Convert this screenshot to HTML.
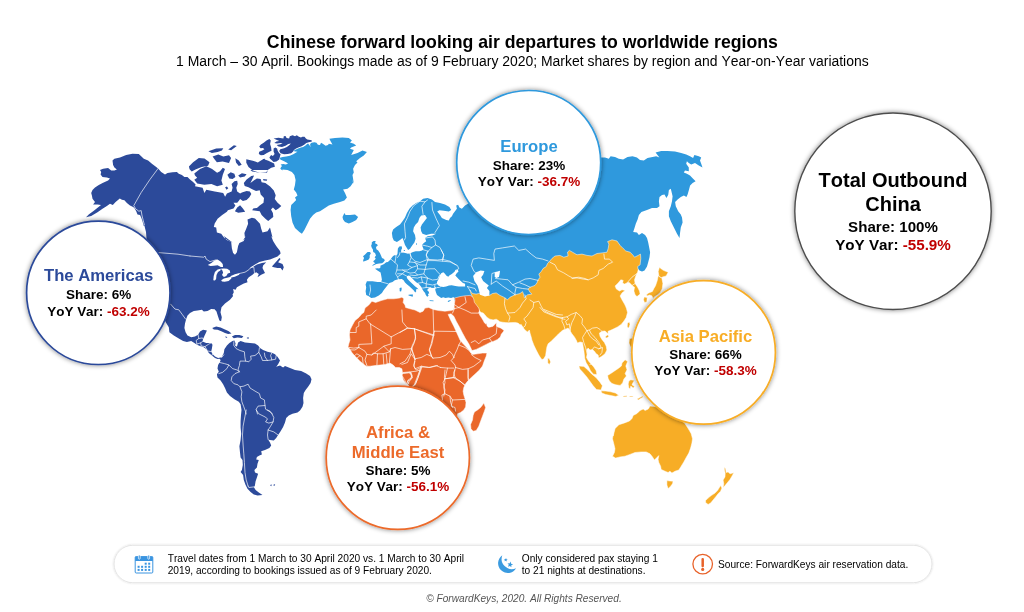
<!DOCTYPE html>
<html lang="en">
<head>
<meta charset="utf-8">
<title>Chinese forward looking air departures to worldwide regions</title>
<style>
html,body{margin:0;padding:0;background:#fff;}
body{width:1024px;height:612px;overflow:hidden;font-family:"Liberation Sans",Arial,Helvetica,sans-serif;}
svg{display:block;position:absolute;left:0;top:0;}
text{font-family:"Liberation Sans",Arial,Helvetica,sans-serif;font-kerning:none;}
.b{font-weight:bold;}
.m{text-anchor:middle;}
.am{fill:#2c4a9a;}
.eu{fill:#2f99dd;}
.af{fill:#ea672a;stroke:#fff;stroke-width:.5;stroke-linejoin:round;}
.as{fill:#f7ad26;stroke:#fff;stroke-width:.5;stroke-linejoin:round;}
.wh{fill:#fff;}
.bd{fill:none;stroke:#fff;stroke-width:0.75;stroke-linejoin:round;stroke-linecap:round;opacity:.9}
.red{fill:#c00000;}
.st{font-size:13.47px;font-weight:bold;fill:#000;text-anchor:middle;}
.rn{font-size:16.66px;font-weight:bold;text-anchor:middle;}
.ft{font-size:10.16px;fill:#000;}
</style>
</head>
<body>
<svg width="1024" height="612" viewBox="0 0 1024 612">
<defs>
<filter id="sh" x="-20%" y="-20%" width="140%" height="140%">
<feGaussianBlur in="SourceAlpha" stdDeviation="2.8"/>
<feOffset dx="0.2" dy="0.4" result="o"/>
<feComponentTransfer><feFuncA type="linear" slope="0.5"/></feComponentTransfer>
<feMerge><feMergeNode/><feMergeNode in="SourceGraphic"/></feMerge>
</filter>
<filter id="sh2" x="-5%" y="-30%" width="110%" height="160%">
<feGaussianBlur in="SourceAlpha" stdDeviation="1.2"/>
<feComponentTransfer><feFuncA type="linear" slope="0.16"/></feComponentTransfer>
<feMerge><feMergeNode/><feMergeNode in="SourceGraphic"/></feMerge>
</filter>
</defs>
<rect width="1024" height="612" fill="#fff"/>
<text x="522.4" y="47.5" class="b m" font-size="17.71">Chinese forward looking air departures to worldwide regions</text>
<text x="522.4" y="65.7" class="m" font-size="13.94">1 March – 30 April. Bookings made as of 9 February 2020; Market shares by region and Year-on-Year variations</text>
<g id="map">
<path class="am" d="M86 217.2 89 214.2 93.5 211 97.9 207.6 101 205 97.5 204.5 93.1 204.4 95 201.9 92.5 198.8 91.9 195.6 91.2 193.1 92.5 190 95 187.5 98.8 185 103.1 182.8 108.1 180.6 110 178.5 106.9 177.5 102.5 176.9 100.6 174.4 101.2 171.9 100 170 103.1 168.8 108.1 168.1 111.2 170.6 114.4 170.6 116.9 169.4 114.4 167.5 113.1 165 112.5 160.6 114.4 158.8 120 157.5 126.2 155 132.5 153.8 138.8 154 141.2 156.2 143.8 158.8 148.1 160.6 151.9 163.8 156.2 166.9 158.1 168.5 161.2 171.9 165 174.4 167.5 173.1 172.5 172.2 176.9 171.9 178.8 173.8 181.9 175 184.4 176.9 187.5 176.9 190 179.4 193.1 181.9 195.6 184.4 195 186.2 202.6 187.8 204.4 193 206.3 189.7 214.7 191.6 223.2 193 225.1 196.7 226.9 193.4 231.6 191.6 232.6 187.8 231.6 184.1 234.4 181.2 237.2 180.8 237.7 184.1 236.3 187.8 237.2 191.6 240.1 193.4 241.9 192.5 246.6 191.1 249.9 191.6 251.3 193.9 249.4 197.2 246.6 200 242.9 200.9 240.1 199.1 238.7 200.9 237.2 202.8 233.5 202.8 235.4 205.6 233.5 208.4 227.9 210.3 226.9 211.7 222.2 215 217.6 218.7 214.7 223.4 213.8 227 216.2 227.5 216.9 232.5 221.2 233.8 224.4 238.1 229.4 241.2 232.5 242.5 223.8 236 226.2 239.8 231.2 242.2 231.9 248.5 233.1 252.9 235 254.8 236.9 252.2 238.1 246 239.4 242.9 243.8 241 245.6 236 242.5 241.2 245 238.1 244.4 233.1 246.2 228.8 248.1 223.8 247.5 219.4 251.9 217.8 255 218.5 260 223.8 261.2 228.8 262.5 232.5 267.5 231.2 270 227.5 272.5 237.5 271.2 236 273.1 241 276.2 246 280 251 280.6 253.5 277.5 256.6 275 257.5 270 259.4 265 260.6 259.4 261.9 255 264.4 251.2 266.9 249.4 268.8 252.5 267.2 256.9 264.5 261.9 262.9 266.2 262.2 263.1 265.4 262.5 267.9 265 272.9 261.2 274.8 257.5 277.2 258.8 274.1 256.2 272.2 253.8 273.5 252.5 274.8 248.8 277.2 246.9 279.8 247.5 282.2 243.8 283.5 240 285.4 236.9 287.2 235.6 289.8 233.1 289.1 233.8 292.2 232.5 294.8 233.1 296 230 299.8 225 303.5 221.5 307.2 220.5 312.2 221.8 317.2 221.1 321.2 219.4 320.6 217.9 316 216.5 311.6 214.6 309.2 211.2 309 207.5 311 203.8 311.6 201.9 309.8 197.5 310.4 193.8 311 190 312.9 187.5 315.4 186.2 319.1 185 323.5 184.4 327.9 185.6 332.2 187.5 335.4 191.2 337.2 195 336.6 198.1 334.8 200 331.6 203.1 329.8 206.9 330.4 205.6 333.5 204.4 336 203.1 339.1 202.5 341.6 206.2 342.9 211.2 342.9 212.5 344.8 211.9 348.5 211.2 351.6 212.5 354.1 215 356.6 218.1 357.9 221.9 357.2 224.4 355.8 225 358.5 222.5 360 221.2 360.4 219.4 358.8 217.5 359.1 215 357.9 211.9 355.4 208.8 352.9 206.9 349.8 203.8 347.2 200 346 196.9 344.8 194.4 342.9 191.2 341 186.9 342 183.1 341 178.8 338.5 173.8 335.4 169.4 332.2 168.8 327.2 166.2 322.9 163.8 318.5 158 300 150 280 146 262 147 245 146 232 144.5 226 143.8 226 142.5 221.2 141.2 217.5 140 215 137.5 214.4 136.2 211.2 134.4 208.1 133.1 206.9 130 205.6 126.9 203.1 124.4 200.2 121.9 199.8 119.8 198.5 115.6 201.9 112.8 205 110 203.8 106.9 206 102.5 208.8 97.5 212.2 91.2 216ZM271.9 266.6 275 262.9 279.4 257.9 280.6 259.1 278.1 262.2 282.5 264.1 283.8 267.2 282.5 270.4 280.6 267.9 277.5 267.9 273.8 267.2ZM212.2 327.9 216.2 326.4 220.6 327.5 225 329.4 228.8 331.2 231.5 333.5 228.1 334 225 333 221.9 331.4 217.5 329.8 213.8 329.4ZM231.9 336.6 235 335.1 239.4 335.1 243.4 336.2 241.9 338 237.5 337.6 233.8 338.2ZM225 336.6 227.5 337 226.2 337.9ZM246.9 337.6 249 337.6 249 338.5 246.9 338.5ZM234.9 211.2 237.2 207.5 240.1 205.2 242.9 208.4 245.2 211.7 241.9 212.2 238.2 212.7ZM243.8 183.1 246.6 179.4 251.3 176.1 254.1 175.6 252.2 179.4 250.4 183.1 254.1 180.3 256.9 178.4 260.7 178.9 261.6 182.2 265.4 183.1 270.1 186.4 273.8 190.6 275.7 195.3 274.7 199.1 277.6 202.8 281.3 206.1 278.5 208.4 275.7 210.3 272.9 207.5 271 209.4 272.9 213.1 273.3 216.9 271 218.7 268.2 221.1 265.4 218.7 261.6 215 259.7 211.2 256 210.8 252.2 210.3 253.2 208.4 256.9 208 259.7 205.6 263.5 202.8 264 198.1 260.7 194.4 259.7 190.2 256 191.1 252.2 189.2 248.5 187.3 244.7 185.9ZM227.4 174.7 230.7 172.3 234.4 173.7 235.4 177 232.6 178.9 229.3 178.4ZM238.2 175.6 241.9 173.3 246.6 174.2 244.7 176.6 240.1 177.5ZM225.1 187.3 226.9 186.4 228.3 188.3 226.5 189.7ZM250.4 170 252.2 171.4 259.7 172.8 266.3 172.3 267.7 170ZM263 178.9 267.2 179.4 266.8 180.8 263.5 180.5ZM188.9 166.4 193.1 162.2 198.8 157.9 204.5 158.6 209.5 162.2 208.1 165.7 201.7 167.1 196 169.3 191.7 171.4 189.6 169.3ZM194.3 173.4 200 169.1 206.4 166.3 212.1 169.1 217.1 172.7 220 171.3 222.8 167.7 225 169.1 222.8 174.8 221.4 180.5 222.8 184.8 217.1 186.2 211.4 184.1 204.3 184.8 197.2 183.4 194.3 179.8 197.2 177.7 195 175.6ZM208.4 151.3 216.2 148.5 223.3 148.2 221.9 150.6 217.6 152.1 211.9 153ZM212.6 156.6 218.3 154.5 223.3 156.6 229 155.2 231.1 158.1 229 163 222.6 161.6 216.9 162.3 214.7 159.5ZM228.2 149.6 233.9 145.3 236.8 146 231.1 150.3ZM235.3 158.2 238.8 160.4 241.7 164.7 238.8 166.1 236 162.5ZM246.3 159.2 252.8 160.7 257.8 162.4 263.4 159 268.4 160.7 274.1 163.5 274.9 166.7 271.3 167.8 267.7 169.9 267 172.8 259.9 172.8 252.8 170.6 248.5 167.1 246.3 162.8ZM258.1 162.5 263.1 159.4 267.5 161.2 272.5 163.8 273.1 166.2 267.5 165.6 262.5 164.4ZM273.6 138.4 278.5 137.7 283.4 138.4 283.8 136.3 285.5 136 286.6 138.1 289.1 138.4 289.8 136.3 292.6 135.3 295 136.3 296.8 135.3 298.9 136.7 301 137.4 302.4 136.7 304.5 136.7 305.9 138.4 307.3 139.5 311.6 140.2 311.9 141.6 308.7 142.3 306.3 143 304.5 144.4 301.7 146.2 298.9 147.2 296.1 148.6 294 150 292.9 151.8 291.2 153.2 287.6 153.9 284.1 154.3 280.6 153.2 279.2 151.1 280.3 149.3 284.1 148.3 286.9 146.9 289.8 144.8 290.8 143.4 288.3 144.1 285.5 145.8 282 146.9 278.5 146.5 276.7 145.1 279.2 144.4 282.7 143.7 280.6 143 277.1 143.4 274.3 143 276.4 141.6 279.2 140.9 276.4 139.8ZM259.2 146.5 260.9 144.4 263.7 142.7 266.5 140.5 269.4 139.1 270.8 140.5 270.1 144.1 271.1 147.2 271.5 150.7 269.4 151.8 266.5 153.2 263.7 155 260.9 155.3 258.8 153.9 259.2 151.8 262.3 150.4 264.4 149.3 263 147.9 260.6 148.3ZM273.6 148.6 275.3 147.6 277.1 148.6 277.8 151.1 279.2 153.2 280.6 154.3 279.9 156.7 279.2 159.5 276.4 161.6 273.6 162 271.8 160.2 270.1 158.8 269.4 157.4 271.1 155 272.9 156 274.6 153.9 273.6 151.4ZM258.1 162.3 260.2 160.9 263 160.2 264.1 158.5 265.1 159.5 265.8 161.6 268.7 162 270.4 163.8 273.2 165.2 272.2 166.9 270.1 167.3 268.7 165.2 265.8 165.5 263 165.2 260.2 164.5ZM221.9 356.8 223.8 353 224.4 349.2 226.9 345.5 229.4 343 232.5 341.1 234.4 340.5 235.6 343.6 235 345.5 236.9 346.8 238.1 342.4 240.6 341.1 245 342.4 250 343 255 343.6 258.1 345.5 260 348 263.1 349.9 267.5 351.8 271.9 352.8 275 354.2 277.5 356.8 280 360.5 278.1 364.2 276.2 366.8 280 365.5 283.1 367.4 285 366.1 290 368 295 369.9 301.2 371.1 306.2 373.6 310 376.1 311.5 379.2 310.6 383 308.1 386.8 305.6 389.9 303.8 393 303.1 398 303.5 403 302.5 406.8 300 410.5 297.5 412.5 292.5 413.8 288.8 415.6 286.2 418.1 285 422.5 283.1 426.9 280.6 431.2 278.1 435 276.2 438.1 273.8 440.6 270 440 268.1 439.4 270 442.5 271.2 445.6 269.4 448.1 265 450 261.2 451.2 261.9 454.4 259.4 455.6 256.9 456.9 256.2 459.4 258.8 460 257.5 463.8 256.9 467.5 254.4 470 255 472.5 258.1 473.8 256.9 477.5 255.6 481.2 254.8 486 253.8 486.9 255.6 490 258.8 492.5 262.5 495 257.5 495.6 253.8 494.4 250.6 491.9 247.5 488.8 245.6 485 243.8 480 243.1 475 240.6 471.9 241.9 470 242.8 465 242.5 460 240.6 457.5 240 452.5 239.4 446.2 240.6 440 241.2 433.8 240.6 427.5 240.6 421.2 241 415 241.5 410 241.2 408 240.6 404.2 238.8 401.8 234.4 399.2 230 396.1 226.9 392.4 225 388 223.1 384.2 220.6 380.5 217.5 377.4 216.9 374.2 218.8 371.8 217.5 368.6 218.1 364.9 220 361.8ZM270 485 271.9 484.4 271.2 486.2ZM273.1 485 275.2 484 274.4 486Z"/>
<path class="eu" d="M279.9 157.8 282.7 157.1 286.2 156.4 289.8 155.7 293.3 154.3 296.1 152.5 297.5 151.8 295.4 151.4 293.3 151.1 295.4 149.7 298.2 148.6 301 147.6 303.1 146.9 305.2 145.8 306.6 144.4 308 143.4 309.4 145.1 310.5 147.2 310.1 144.1 311.6 142.7 314.4 142.3 316.5 142.7 317.9 144.8 320 145.1 321 142.7 322.8 143.7 325.6 145.8 328 145.1 328.8 143.8 332.5 144.4 330.6 141.2 329.4 138.8 335 138.1 342.5 137.5 348.8 138.1 351.9 140.6 350 142.5 353.8 143.8 356.2 145.6 351.2 147.5 350 148.8 353.8 150 351.2 155 357.5 153.1 362.5 150.6 366.9 151.9 363.8 155.6 360 158.1 356.2 161.2 357.5 162.5 355 165 353.1 168.8 353.8 172.5 352.5 175 353.1 178.8 353.8 183.8 351.9 178.8 353.1 182.5 350.6 186.2 347.5 188.8 343.1 189.4 345 193.1 346.9 197.5 344.4 200.6 340 201.9 333.8 203.8 328.8 205.6 325 208.1 320 211.2 316.2 212.5 313.1 215 310 218.8 306.9 225 304.4 230 301.9 233.8 299.4 231.9 295 228.1 292.5 222.5 291.2 216.2 290.6 210 291.2 205 293.8 202.5 296.2 200 295 197.5 297.5 195.6 296.2 192.5 293.8 189.4 295 185 295.6 180 294.4 175 291.9 171.9 287.5 170 282.5 169.4 282.4 170.4 280.3 168.7 281 167.3 282 165.9 280.6 164.5 283.4 164.1 285.5 164.5 288 163.8 286.9 162.7 284.1 161.3 280.3 159.5ZM342.5 216.9 344.4 213.1 345.6 215 350 215 355 214.4 358.1 216.9 356.2 220 352.5 221.9 348.8 223.5 345 221.9 343.1 219.4ZM431.9 199.4 435 201.9 440 203.1 445 204.4 449.4 206.9 451.2 210 448.8 211.5 443.8 210.8 439.4 210.2 437.2 211.5 440 215 441.9 218.1 446.2 220 448.8 220.6 450 218.1 451.9 216.2 453.1 213.8 455 211.2 456.9 208.8 456.2 205.6 458.1 204.8 459.4 207.5 461.9 208.8 465 205.6 468 203.8 480 190 520 170 560 160 595 157 600.6 157.5 605 157.5 608.8 158.8 610.6 156.2 615 156.9 618.8 158.8 623.1 159.4 627.5 156.9 632.5 156.2 636.9 157.5 640 160 643.8 160.6 647.5 158.1 652.5 156.9 656.2 156.2 659.4 157.5 657.5 155 655.6 152.5 661.2 151 667.5 151 675 151.5 681.2 153.1 686.2 154.4 690 156.2 693.1 158.1 694.4 155 698.8 156.2 701.2 157.5 700 160.6 701.2 163.8 702.5 167.5 698.8 165.6 695 163.1 691.2 164.4 688.8 163.1 686.9 161.2 686.2 163.8 688.8 167.5 688.8 171.2 685 170.6 683.8 172.5 686.9 173.8 690 175.6 693.1 178.8 695.6 181.2 692.6 183.1 690.1 185.6 688.9 190 687.6 194.4 686.4 196.9 683.9 195.6 680.8 196.9 677.6 199.4 675.1 201.9 675.8 206.2 678.2 211.2 680.8 214.4 682 217.5 682.6 222.5 680.8 227.5 680.1 232.5 679.5 238.1 677 233.8 673.9 227.5 670.8 221.2 668.9 216.2 668.9 211.2 670.8 206.2 672 201.2 672.6 196.2 671.4 191.2 670.8 188.8 668.9 190 668.2 195 666.4 198.1 664.5 194.4 662 195 659.5 196.9 658.9 201.2 659.5 206.2 657 208.1 652 208.1 647 210 641.4 211.9 638.9 215 637.6 219.4 635.8 223.8 634.5 228.1 633.2 231.9 637 232.5 638.9 235 642 233.1 645.1 235 647 238.1 648.2 242.5 648.9 246 650.1 252.2 649.5 257.2 648.2 262.2 647 266.6 644.5 270.4 642 271.6 639.5 270.4 637.6 268.5 630 262 600 262 560 270 530 300 500 300 470 305 455 302 454.2 297.5 453.2 297.2 451.1 297.9 448.3 297.5 445.4 297.9 443.3 297.2 441.2 297.9 439.1 296.5 437 295.1 436 292.6 435.2 289.8 435.6 288.4 436 286.6 434.9 287.3 433.5 288 431.4 287.7 429.3 288 427.9 288.7 427.2 290.2 428.6 291.6 429.3 293.3 427.9 294 428.6 295.8 427.2 296.8 425.8 295.1 425.1 293 423.6 291.2 422.2 289.1 421.5 287.3 420.1 285.6 418.7 283.8 416.6 282.4 414.5 280.7 412.4 278.5 410.6 276.4 408.9 275.4 407.1 276.1 406.8 277.8 407.8 279.3 409.2 280.7 411 282.4 413.1 284.5 415.2 286.6 417 287.7 418.7 289.4 417.7 289.1 415.9 289.4 416.3 291.2 415.2 292.6 413.8 290.5 412 288.7 409.6 286.6 407.1 284.5 405 282.4 403.6 280.3 401.8 279.1 398.3 279.3 394.8 280.3 392.5 281.9 389.4 283.1 388.1 284.4 386.2 286.9 383.8 290 381.9 293.1 378.8 295.6 375 297.5 371.2 298.1 368.8 296.2 366.2 295 365.6 291.2 366.2 287.5 365.6 284.4 366.9 281.2 372.5 281.2 377.5 281.9 381.2 281.9 381.9 279.4 381.2 275.6 380.6 272.5 377.5 270.6 375 268.8 377.1 268.2 379.2 268.6 380.6 267.2 380.3 265.8 382 265.1 384.1 264 386.2 262.2 388 261.9 389.1 260.8 390.5 259.8 391.5 258 392.9 256.3 394.3 255.2 396.1 255.2 397.4 254.2 397.6 252.5 397.7 250.8 397.9 248.4 399.3 246.6 401.6 246.2 402.1 248.2 401.2 249.9 401.1 251.9 401.7 253.1 402.8 252.4 405.2 253.1 408 253.8 410.9 253.1 413 252 415.8 251.3 419.3 251.3 422.1 250.6 423.5 248.9 421.9 245 423.8 243.1 426.2 241.2 425 238.1 427.5 236.2 432.5 235.6 436.2 233.8 431.2 233.8 426.2 235 422.5 233.8 421.2 231.2 420.6 227.5 421.9 224.4 424.4 221.2 426.9 218.1 425 215 421.2 215.6 419.4 218.1 418.1 221.9 415.6 224.4 413.8 227.5 413.1 231.2 415 235 415.6 238.8 414.4 242.5 412.5 245 410 248.8 408.1 250 406.9 248.1 405 245 403.8 241.2 402.5 238.1 400 240 396.9 241.9 393.8 240.6 392.5 237.5 391.9 233.1 393.1 229.4 396.2 226.9 400 224.4 402.5 221.2 405 217.5 406.9 213.1 409.4 208.8 412.5 205.6 416.2 203.1 420 201.2 423.1 198.8 427.5 198.1ZM371.8 242.2 373.6 241.1 375.7 241.1 375 243.3 377.1 244.3 377.8 245.4 376 247.1 376.4 249.2 378.2 250.6 379.9 253.1 381 255.6 382 258 384.1 259.1 384.8 260.5 383.4 262.2 382 263.3 379.2 263.6 376.4 264 374.3 265.1 372.2 266.1 372.9 264.7 375.3 263.3 373.9 262.2 373.2 261.2 375 259.8 375.7 258.4 374.6 257.3 376 255.6 375 253.1 373.2 252 372.9 249.6 371.8 247.8 371.1 245.7 371.8 244ZM363 256.3 365.1 254.5 366.5 253.1 367.6 252 370.1 252 370.8 253.4 369.7 255.2 369.7 257.7 368.7 259.4 366.5 260.5 364.4 261.2 363 261.5 363.4 259.4 364.1 258ZM403.8 249.9 404.9 249.9 404.9 251 403.8 251ZM416.3 243.3 417 243.1 416.9 245 416.3 244.9ZM408.5 294.7 411 294.4 413 294.6 412.7 296.8 410.3 296.1 408.5 295.6ZM399.6 288 401.5 287.5 401.7 289.1 401.1 291.6 399.7 291.2ZM429.6 300.3 433.5 300.6 433.5 301.2 429.6 301.1ZM447.6 301.1 450.4 300 450.7 300.7 448.3 301.9Z"/>
<path class="af" d="M371.9 301.2 375.6 302.5 381.2 300.6 387.5 298.8 393.8 298.8 399.4 298.1 401.9 297.2 403.8 298.8 403.1 302.5 405 305 405.6 307.5 410 308.8 415 310 420 312.5 423.1 311.2 425 308.1 428.8 307.5 433.1 309.4 438.8 310.6 445 311.2 450.6 310.6 453.1 310 453.8 308.8 454.4 303.8 455 300 454.4 298.1 460 296.6 465 295.8 470 295.4 474.4 297.5 476.9 302.5 479.8 308.8 478.8 313.1 479 312.5 479.7 315 481.1 317.1 482.9 319.9 484.6 323.1 485.9 324.1 486.4 323.1 486.8 324.8 487.1 325.9 488.5 327.3 490.6 326.9 493.1 326.2 495.2 324.1 496.6 322.4 496.9 324.1 496.6 325.9 497.6 326.9 500.5 328 502.9 329.4 504 330.8 502.6 332.6 501.2 334.3 500.5 336.8 501.2 336.2 497.5 339.4 493.8 341.2 490 342.5 486.2 344.4 481.2 346.9 476.2 349.4 471.9 350.6 471.2 348.8 468.8 343.8 465.6 338.8 462.5 333.1 459.4 326.9 456.2 321.2 453.8 316.2 451 313.8 448.1 314.4 450.6 320 453.8 326.2 456.9 333.1 460 340 462.5 343.1 466.2 346.9 469.4 350.6 470.6 352.5 472.5 354.4 477.5 353.8 482.5 353.1 486.9 353.1 486.2 356.2 484.4 360.6 482.5 366 479.4 370 476.2 373.1 471.9 376.9 468.1 380.6 465.6 383.8 463.8 387.5 463.1 391.2 463.8 395 465 398.8 466 402.5 465.6 406.9 463.8 410 460.6 412.5 457.5 413.8 455 430 440 460 420 465 412 430 408 400 408.8 385.6 406.2 383.8 403.1 380 402.5 376.2 408.1 386 406.9 383.8 405 381.9 403.1 379.4 402.2 376.2 402.5 372.5 401.9 368.8 399.4 367.5 395.6 367.5 393.1 365 390 363.1 385 364.4 380 365 375 365.6 370 366.2 366.2 366.2 363.1 363.8 360 361.2 356.9 358.1 354.4 355.6 351.9 352.5 350 349.4 348.1 346.9 348.8 343.8 350 340 349.4 335 350 330 352.5 325 355 320.6 358.8 317.5 361.9 313.8 363.8 312.5 365 308.1 368.8 305ZM483.8 403.1 485.6 407.5 484.4 411.2 482.5 416.2 480.6 421.2 478.8 426.2 476.2 430.6 473.1 431.2 471 428.8 470.6 424.4 472.5 420 473.1 415.6 474.4 411.9 477.5 410 480.6 407.5 482.5 405Z"/>
<path class="as" d="M470 290.4 472.5 293.5 476.2 294.1 478.8 293.5 489.4 295.4 492.5 293.5 496.2 292.9 500 295.4 503.8 297.2 507.5 299.8 510 297.2 515 294.8 520 293.5 522.5 291.6 523.8 294.8 524.4 297.9 527.5 294.8 531.9 294.1 530 292.2 528.1 289.1 530 287.2 535 285.4 536.9 282.9 538.1 279.8 540 277.2 538.8 274.1 541.2 271.6 543.1 268.5 546.2 266.6 547.5 263.5 549.4 261.6 551.9 258.5 555 256 560 255.4 563.8 257.2 568.1 256 567.5 252.2 569.4 250.4 572.5 252.2 577 254.8 582 254.1 587 255.4 592 256 597 253.5 602 252.9 607 252.2 608.2 248.5 608.9 244.1 607.6 241.6 612 239.8 617 241 620.1 245.4 623.2 248.5 625.8 251 630.1 252.2 633.2 255.4 634.5 257.2 638.2 255.4 640.5 254.1 640.8 258.5 640.1 264.8 637.6 266.6 638.2 269.8 637.6 272.2 635.8 276 634.5 279.8 635.1 283.5 637.6 287.2 639.5 291 640.1 294.1 637 296.6 635.1 294.8 633.9 291 634.5 287.2 632.6 286 630.8 284.1 628.9 282.2 627 282.9 624.5 284.1 622.6 282.9 623.2 280.4 620.8 279.8 618.2 282.9 615.1 286 616.4 289.1 619.5 291 622 289.8 625.1 290.4 622 292.9 620.1 296 622 299.8 624.5 304.1 626.4 307.9 626.2 307.5 627.5 312.5 626.2 317.5 623.8 321.2 621.2 324.4 617.5 326.9 613.8 328.8 610 330.6 608.1 331.2 608.1 333.8 605 331 601.9 331.2 599.4 333.1 600 336.2 601.9 339.4 604.4 342.5 606.2 346.2 606.9 350 605 353.8 601.9 356.2 598.8 358.1 598.1 355 596.2 353.8 594.4 351.2 592.5 349.4 590 350 588.1 348.1 586.9 349.4 587.2 353.8 586.5 357.5 588.5 361 590.9 363.8 593.8 367 596.2 370.8 596.9 374.6 593.5 374.2 590.6 370.9 588.5 366.5 586.2 362.8 584.8 358.8 584.4 355 583.8 350 583.1 346.2 582.5 342.5 580 341.9 577.5 343.1 576.2 340 574.4 336.9 571.9 333.8 570 330.6 568.1 328.1 565 329.4 563.1 330 560.6 331.9 557.5 335 554.4 338.1 551.2 341.2 548.1 343.8 546.9 346.9 546.2 351.2 545.6 355.6 543.8 358.8 541.2 360 543.1 360 541.2 358.8 538.8 355 536.2 350 533.8 345 531.9 340 531.2 336.9 530 333.1 529.4 330 527.5 331.9 525 330 523.1 327.5 521.2 324.4 520.1 324.8 518 323.1 515.2 322.4 511.7 322.6 508.2 322.7 505.4 322.6 502.6 322.2 499.8 321.7 498 320.3 496.2 319.2 493.1 319.9 489.9 319.2 487.1 317.4 485 315 483.2 312.9 481.1 312.5 479.7 311.1 478.7 308 476.5 305.1 474.4 302.3 473.7 298.8 472 296 470.6 292.5 470 290ZM547.8 358.1 549.4 358.8 550.6 361.9 549.4 364.4 547.8 363.1ZM605 336.9 607.5 335 609 336.2 606.9 338.1ZM627.5 323.1 629.4 321.9 630 324.4 628.8 328.1 627.2 326.9ZM629.4 338.8 631.9 338.1 633.1 342.5 632.5 346.2 630.6 346.9 629 343.1ZM634 362 640 360 646 372 652 380 648 386 640 380 636 372ZM659.5 267.2 661.4 269.1 663.9 270.6 668.2 272.2 666.1 276 662.6 276.9 661 277.9 658.9 276.2 658.2 271.6ZM658.2 275.8 661.8 277.9 662.9 283.5 662.2 288.8 660.2 292.5 657.6 294.8 654.5 296.8 653.2 298.4 651.8 295.8 649.5 295 647 296.1 646.5 294.8 648.6 293 652.4 291.5 653.9 288.5 655.5 285.8 657.2 280.8ZM644.2 297 647.2 297.6 646.8 301.9 644.5 302.6 643.5 299.8ZM578.9 366 583.9 366.4 587.9 370.1 591.6 373.9 596 377.6 599.8 382 602.4 385.8 601 390 596.5 389.5 593 385.6 589.9 381.2 586.8 376.9 583 372.5 579.8 369.1ZM607.6 375.4 610.8 373.5 614.5 371 618.2 368.5 621.4 366 622 362.9 625.1 359.8 627.6 361.6 625.8 366 627 369.8 625.1 373.5 626.4 376 623.9 379.1 622.6 382.9 620.1 385.4 615.8 384.8 612 383.5 609.5 381 608.2 378.5ZM628.9 381 630.8 379.8 634.5 380.4 633.2 382.2 632 384.8 634.5 386.6 633.2 387.9 630.8 386 630.1 389.1 628.9 387.9 628.2 384.1ZM601 390.8 605.8 391.1 610.8 391.8 615.4 393 618.8 395.2 615.8 396.5 610.8 395.5 605.8 394.5 601.8 393ZM623.2 396 627 395.8 627 396.8 623.2 396.9ZM629.5 396 633.2 396.2 633 397 629.8 396.9ZM637 399.1 642.6 396 643.2 397 638.2 400ZM613.2 436 615.1 428.5 618.9 424.8 624.5 422.9 629.5 421 632 418.5 633.2 415.4 637 413.5 640.1 410.4 643.2 409.1 645.1 410.4 648.2 409.1 650.1 406 659.5 407.2 672 413.5 684.5 422.9 687.5 427.5 689.4 430.6 691.2 433.8 692.5 438.8 691.9 443.1 690.6 448.1 688.8 453.1 686.2 457.5 683.8 461.9 681.2 466.2 678.8 470 675 471.2 671.9 473.1 670 471.2 668.1 472.5 665 471.2 661.2 469.4 660.6 466.2 658.8 462.5 658.1 459.4 658.8 455.6 656.9 457.5 654.4 460 652.5 456.9 650 453.8 646.2 451.9 641.2 451.9 635 452.5 630 454.4 625 456.2 620 456.9 615.6 458.1 612.5 456.2 614.4 452.5 615 448.8 613.8 443.8 612.5 438.8 613.1 435 613.8 428.8ZM666.9 480.6 670 481 673.1 481.2 672.5 483.8 670 486.9 668.1 488.5 666.9 485ZM724.4 466.9 725.6 468.8 726.2 472.5 728.1 471.9 730 473.8 733.8 472.8 731.9 476.2 730 479.4 727.5 482.5 725 485.6 723.1 487.5 723.8 483.8 723.1 480 725 476.9 725.2 473.1 724.4 470ZM720.6 485.6 721.9 488.1 720.6 491.2 718.1 493.8 715.6 496.9 713.1 500 710.6 503.1 708.1 504.4 705.6 502.5 705.6 500.6 708.1 498.1 711.2 495.6 715 493.1 717.5 490.6 719.4 487.5Z"/>
<path class="wh" d="M207.8 264.9 211.4 262.9 214.5 260.6 217.6 259.6 220.8 261.8 222.7 264.1 223.1 266.9 220.8 266.9 217.6 265.3 213.7 265.7 210.6 266.1ZM213.3 280.2 213.7 275.9 214.9 272 217.6 269.6 220.8 268.8 220.4 270.4 218 272 216.5 275.1 216.1 279 214.9 280.6ZM220.8 268.8 223.9 268.4 227.1 268.8 229.8 270.4 230.2 272.7 227.8 273.5 226.3 275.9 223.9 277.1 222 275.1 223.1 272.7 222.4 270.4ZM221.2 280.2 223.9 278.6 227.1 277.8 231 276.7 231.4 278.6 228.6 281 224.7 281.8 222 281.4ZM230.2 276.3 234.9 274.3 239.6 273.1 239.2 274.7 234.9 276.7 231.4 277.6ZM437 282.1 438.4 279.3 439.8 275.7 441.2 273.3 443.3 272.2 444.7 273.6 446.5 275.7 448.3 276.8 449.3 275.4 451.8 274 453.9 272.2 455.6 270.5 457.8 269.8 458.5 271.5 456.7 273.3 455.3 275.4 456.7 277.1 458.8 279.3 461.3 281.4 463 283.1 465.1 283.8 465.1 286.4 461.6 286.6 458.8 286.4 455.3 285.9 451.8 285.2 449 285.6 446.1 286.6 443.3 287 440.5 286.4 438.1 285.2 437 283.8ZM435.2 287.9 438.4 287.1 441.2 286.7 441.2 287.1 438.4 287.7 435.6 288.5ZM473.1 276 476.2 272.2 480.6 270.4 484.4 271 483.1 274.8 481.2 277.2 483.1 281 486.2 283.5 488.8 285.4 486.9 287.9 489.4 291 489.4 295.4 485 296.6 480 294.8 478.8 289.8 477.5 285.4 474.4 281ZM494.7 272.5 497.5 271.5 500 270.8 499.6 274 498.9 277.1 496.4 278 494.7 277.1Z"/>
<path class="bd" d="M233.8 341.8 233.8 345.5 236.2 348.6 240 350.5 244.4 351.8 244.8 356.8 245.6 361.1M259.4 348 258.8 352.4 255 355.5 250.6 356.1 251.2 359.2 248.8 361.8 245.6 361.1 240 361.1 239.4 365.5 238.1 369.2 239.4 371.8M258.8 352.4 261.2 356.8 262.5 360.5 267.5 360.5 265 356.8 264.4 353M267.5 360.5 271.9 359.9 270.6 355.5 271.9 352.8M271.9 359.9 275.6 359.2 276.2 355.5M219.4 362.4 224.4 363.6 228.8 364.9 226.9 368.6 222.5 372.4 218.8 373.6M228.8 364.9 232.5 368.6 236.9 369.9 239.4 371.8 235 373.6 231.9 376.8 231.2 380.5 233.8 383.6 238.1 384.9 240 386.8 243.8 386.1 248.1 384.2 250 388 255 391.1 259.4 393.6 260.6 398 264.4 399.9 265 405.5 265.6 409.2 270 411.8 272.5 414M240 386.8 241.9 391.8 241.2 396.8 241.9 401.8 243.8 406.8 245.6 411.8 246.2 414M265 405.5 258.1 406.1 256.2 409.2 257.5 414M246.2 410 245 416.2 243.1 426.2 242.5 435 243.1 445 243.8 453.8 244.4 462.5 245 472.5 246.2 480 248.1 486M248.1 486 248.8 487.5 253.8 486.9M256.2 410 258.8 413.8 265 416.9 267.5 418.8 265.6 421.9 268.8 423.1 273.1 421.9 273.8 417.5 271.9 413.8 270 411.2 267.5 410M273.1 421.9 270.6 426.2 268.1 430 267.5 435 268.1 439.4M268.1 430 273.8 431.9 278.1 435M158.1 168.5 150 179.4 141.2 192.5 133.8 205.6 135.6 208.8 138.8 211.2 141.2 210.6 141.9 215 143.1 220 144.4 225M155 252.3 178 254.2 190 256M190 256 203.8 257.2 205 256 206.2 259.1 210 261.6 216.2 259.8M239.4 273.5 245 272.2 248.8 269.8 251.2 267.2 253.8 267.2 254.4 272.2 255 273.5M170.6 304.1 175 309.1 178.8 309.8 182.5 314.8 185.6 319.1M198.1 334.8 198.8 338.5 196.2 340.4 196.9 344.1M198.8 338.5 202.5 337.9 203.1 339.1M196.9 344.1 200.6 342.9 202.5 341.6M200.6 342.9 201.2 346 205 346.6 208.8 344.1 211.2 342.9M205 346.6 206.9 349.8M207.5 351 211.2 351.6M212.5 354.1 211.9 355.4M221.9 357.2 223.8 354.8M420 201.2 413.8 205.6 410 211.2 407.5 217.5 404.4 223.8 405 231.2 405.6 237.5 404.4 240M420 201.2 425 201.9 427.5 200M425 201.9 421.9 206.2 423.1 214.4M431.9 202.5 432.5 210 436.2 218.8 439.4 225.6 435 232.5M425 238.1 432.5 236.9 435 240 435.6 245 431.9 247.5 427.5 246.2 421.9 245M435.6 245 440 247.5 443.8 255 442.5 259.4 437.5 260 428.8 259.4 426.2 255 428.1 251.2 431.9 247.5M409.4 251.9 411.2 257.5 415 261.2 420 262.5 426.2 260 428.8 259.4M420 248.8 426.2 250.6 428.1 251.2M442.5 259.4 450 261.2 456.2 265M400 252.5 399.4 255 397.5 257.5M370 285 370.6 290 369.4 295M381.2 281.9 388.1 283.8M391.2 259.4 395 262.5 397.5 265 396.9 270 395.6 273.8 397.5 276.9 398.8 280M396.2 254.4 395.6 258.8 395 262.5M410 252.5 411.2 257.5 409.4 261.9 407.5 265 411.9 267.5 417.5 265.6 415 262.5 409.4 261.9M411.9 267.5 407.5 270 402.5 270 396.9 270M415 262.5 420 265 426.2 265 427.5 260.6 426.2 255 427.5 251.2M427.5 260.6 435 260.6 442.5 261.2 443.8 255 441.2 250M442.5 261.2 450 261.9 457.5 265.6 458.8 268.8 455 270.6 456.9 271.5M426.2 265 425 269.4 430 268.8 435 268.8 437.5 271.9 440 274.4 438.8 276.9M425 269.4 423.8 273.8 427.5 278.1 432.5 280 437.5 279.4 438.8 276.9M417.5 265.6 417.5 268.8 425 269.4M415 272.5 417.5 275 423.8 273.8M402.5 270 405 271.2 410 273.1 415 272.5 417.5 268.8M405 271.2 402.5 273.8 397.5 273.8M397.5 276.9 402.5 273.8 406.9 276.2M410 275 415 275.6 417.5 275M412.5 277.5 417.5 278.1 421.2 276.9 427.5 278.1M421.2 276.9 422.5 282.5 426.2 283.8 427.5 278.1M418.1 283.1 422.5 282.5M422.5 288.1 426.2 287.5 426.2 283.8 432.5 285 436.9 283.8M426.2 287.5 430.6 287.5M434.4 286.9 435 285M463.1 281 468.8 282.2 475 284.8M467.5 286.6 475 288.5 476.2 291M467.5 286.6 470 290.4M548.1 261 542.5 259.1 536.2 257.9 531.2 254.1 525.6 249.1 518.8 250.4 514.4 246 502.5 247.9 495 249.1 493.8 253.5 494.4 260.4 486.2 259.1 478.8 257.9 473.1 259.1 471.2 265.4 473.8 271 475.6 272.9M491.2 284.1 491.9 273.5 496.2 272.2M495.6 278.5 501.2 279.1 508.1 279.8 512.5 284.8 518.8 282.2 525 279.1 530 278.5 538.1 280.4M491.2 284.1 496.2 281 502.5 286 510 291 515 294.8M512.5 284.8 516.2 287.2 515 292.2 515 294.8M520 282.9 525 284.8 530 287.2M516.2 287.2 522.5 288.5 528.1 289.1M550 262.2 555 264.8 557.5 269.8 563.8 272.9 568.8 276 572.5 277.9 578.8 277.2 585 278.5 588 279.8M572 278.5 577 277.9 583.2 279.1 588.2 279.8 593.2 277.9 598.2 274.8 598.9 270.4 603.2 268.5 608.2 264.1 612.6 262.2 609.5 259.1 604.5 259.1 603.9 254.1M627 282.9 632 277.2 637 273.5M631.4 286 635.1 283.5M453.8 308.8 458.8 307.5 465 310 471.2 313.1 478.8 313.1M453.1 303.8 454.4 308.8 452.5 313.1M465 296.9 466.2 302.5 458.8 307.5M453.1 303.8 458.8 307.5M505 298.1 504.4 303.8 505.6 308.8 507.5 313.1 510 316.9 508.8 321.2M507.5 313.1 515 312.5 520 307.5 522.5 303.1 526.2 298.8 525 295M530 300 533.8 302.5 533.1 307.5 530 311.9 526.9 316.2 523.8 318.8 526.2 322.5 525 326.2 523.1 327.5M533.8 302.5 538.8 301.2 541.2 306.2 543.8 310.6 548.8 313.1 555 315.6 560 318.1 565 319.4M471.2 342.5 475 340.6 478.8 343.8 482.5 340 489.4 338.1 491.9 341.9M489.4 338.1 496.2 333.8 496.9 327.5 496.2 322.5M540 307.5 543.8 311.9 550 314.4 556.2 316.9 562.5 317.5 566.9 316.9 571.2 314.4 576.2 312.5 580 315.6 582.5 318.8 581.9 323.8 584.4 326.9 586.9 330.6 589.4 330 592.5 328.1 596.9 327.5 600 329.4 601.2 330.6M543.8 309.4 550 311.9 556.2 314.4 562.5 315M562.5 317.5 561.9 321.2 563.8 325 565 329.4M566.9 316.9 568.8 318.8 565.6 321.2 566.9 325 569.4 323.8 570 330.6M576.2 312.5 574.4 317.5 571.9 322.5 570.6 326.9 570 330.6M586.9 330.6 584.4 334.4 582.5 337.5 583.8 342.5 585.6 347.5 587.2 353.8M589.4 330 591.2 333.8 595 337.5 598.8 342.5 601.2 347.5 598.8 348.8M586.9 330.6 590 336.2 592.5 338.8 596.2 341.2 598.8 345M592.5 349.4 594.4 346.9 598.8 348.8 602.5 347.5 601.9 352.5 600 355M590 364.4 591.9 363.8M366.2 318.8 358.8 321.9 358.8 326.2 356.2 327.5 356.2 332.5 350 332.5M376.2 310 371.2 315 366.2 316.2 366.2 318.8 370 323.8 391.2 336.9M370.6 323.8 371.9 343.8 358.8 344.4 358.8 347.5M391.2 336.9 407.5 328.1 402.5 321.9 401.9 310M407.5 328.1 414.4 328.8 433.8 335M433.1 310 433.8 335M433.8 335 431.9 343.8 429.4 350 432.5 358.1M414.4 328.8 415.6 338.8 412.5 345 411.2 348.8 414.4 356.2 415 359.4M391.2 336.9 391.2 343.8 383.8 346.2 389.4 351.9 390.6 348.8 395 347.5 402.5 349.4 411.2 348.8M390.6 348.8 389.4 362.5M415 359.4 411.2 353.8 407.5 362.5 401.9 364.4M358.8 347.5 353.8 348.1 349.4 347.5M349.4 349.8 355 350 358.8 347.5M358.8 347.5 365 351.2 366.9 354.4 371.9 355 383.8 346.2M366.9 354.4 365 360 366.9 365.6M371.9 355 373.1 353.1 377.5 353.8 376.9 365M377.5 353.8 383.1 353.8 389.4 351.9M383.1 353.8 383.8 364.4M386.2 353.8 387.2 363.8M356.9 358.1 360 355.6 362.5 357.5 363.1 363.8M354.4 355.6 356.9 353.8 360 355.6M415 359.4 413.8 365 415 368.8 421.2 366.2 430 367.5 437.5 365.6M403.1 372.5 410 371.9 411.9 377.5 408.1 380 406.9 383.8M410 371.9 416.2 371.2 420 370 421.2 366.2M420 370 416.2 380 413.8 386M434.4 331.2 456.9 331.5M434.4 331.2 433.1 335.6 431.2 343.8 429.4 349.4 431.2 356.2 433.1 358.1M400 332.5 407.5 328.1 414.4 328.8 433.1 335.6M414.4 328.8 415.6 336.2 414.4 342.5 411.9 348.1 413.1 353.8 415 358.8M415 358.8 421.2 357.5 426.9 354.4 431.2 356.2M415 361.2 413.8 366.2 416.2 370 421.9 366.9 428.8 367.5 436.2 365.6 440.6 367.5M433.1 358.1 440 357.5 446.2 355 449.4 351.2 452.5 354.4 453.8 357.5M461.2 340.6 458.8 345 456.9 350 455 353.8 453.8 357.5M458.8 345 465 347.5 470 351.2 471.2 353.1M453.8 357.5 451.2 360.6 455 365 455.6 367.5M455.6 367.5 462.5 369.4 468.1 368.8 473.8 366.2 481.2 360.6 475 357.5 471.2 354.4M468.1 368.8 468.1 377.5 468.8 380M455.6 367.5 453.8 372.5 455 377.5 460 381.2 465 385M440.6 367.5 447.5 368.1 453.8 368.1M447.5 368.1 446.2 373.8 445 378.8 455 377.5M445 378.8 443.1 382.5 445 390 443.8 396M421.9 366.9 420 372.5 417.5 378.8 415 385M400 373.8 406.2 373.1 411.2 372.5 412.5 377.5 409.4 381.2 407.5 385M400 363.8 405 361.2 410 353.8 411.9 348.1M445 370 444.4 377.5 445 382.5 443.8 387.5 445 393.8 441.9 395 442.5 400M455 370 453.1 377.5 460 381.2 465 385.6M445 378.8 453.1 377.5M445 393.8 450 396.2 452.5 400 465 399.4M452.5 400 451.2 406.2 455 407.5 455.6 411.2M450 396.2 450.6 402.5 452.5 407.5M468.1 370 468.1 379.4M420 370 418.1 377.5 415.6 383.8 412.5 386.2M402.5 373.1 408.8 372.5 411.9 375 410.6 379.4 407.5 381.2 408.8 383.8"/>
</g>
<g id="bubbles">
<circle cx="98.3" cy="292.8" r="71.7" fill="#fff" stroke="#2c4a9a" stroke-width="1.7" filter="url(#sh)"/>
<text x="98.6" y="281.3" class="rn" fill="#2c4a9a">The Americas</text>
<text x="98.6" y="299.1" class="st">Share: 6%</text>
<text x="98.5" y="315.5" class="st">YoY Var: <tspan class="red">-63.2%</tspan></text>

<circle cx="528.7" cy="162.5" r="72" fill="#fff" stroke="#2f99dd" stroke-width="1.7" filter="url(#sh)"/>
<text x="529" y="152" class="rn" fill="#2f99dd">Europe</text>
<text x="529" y="169.7" class="st">Share: 23%</text>
<text x="529" y="185.9" class="st">YoY Var: <tspan class="red">-36.7%</tspan></text>

<circle cx="703.6" cy="352.4" r="71.8" fill="#fff" stroke="#f8ad26" stroke-width="1.7" filter="url(#sh)"/>
<text x="705.5" y="341.8" class="rn" fill="#f8ad26">Asia Pacific</text>
<text x="705.5" y="359" class="st">Share: 66%</text>
<text x="705.5" y="375.3" class="st">YoY Var: <tspan class="red">-58.3%</tspan></text>

<circle cx="397.8" cy="457.8" r="71.6" fill="#fff" stroke="#ec6a2a" stroke-width="1.7" filter="url(#sh)"/>
<text x="398" y="437.6" class="rn" fill="#ec6a2a">Africa &amp;</text>
<text x="398" y="457.6" class="rn" fill="#ec6a2a">Middle East</text>
<text x="398" y="475.3" class="st">Share: 5%</text>
<text x="398" y="491.2" class="st">YoY Var: <tspan class="red">-56.1%</tspan></text>

<circle cx="893" cy="211.25" r="98.2" fill="#fff" stroke="#4d4d4d" stroke-width="1.4" filter="url(#sh)"/>
<text x="893" y="187" class="b m" font-size="20">Total Outbound</text>
<text x="893" y="211.4" class="b m" font-size="20">China</text>
<text x="893" y="231.5" class="b m" font-size="15.1">Share: 100%</text>
<text x="893" y="249.8" class="b m" font-size="15.2">YoY Var: <tspan class="red">-55.9%</tspan></text>
</g>
<g id="footer">
<rect x="114" y="545.3" width="818" height="37.4" rx="18.7" fill="#fff" stroke="#e4e4e4" stroke-width="1" filter="url(#sh2)"/>
<g id="cal" fill="#3a94e0">
<rect x="135.2" y="556.6" width="17.6" height="16.4" rx="1" fill="none" stroke="#3a94e0" stroke-width="1"/>
<rect x="135.2" y="556.6" width="17.6" height="4.4"/>
<rect x="138.4" y="555" width="1.8" height="4.2" rx="0.9" fill="#3a94e0" stroke="#fff" stroke-width="0.7"/>
<rect x="147.8" y="555" width="1.8" height="4.2" rx="0.9" fill="#3a94e0" stroke="#fff" stroke-width="0.7"/>
<g>
<rect x="144.7" y="562.7" width="2" height="2"/><rect x="148.2" y="562.7" width="2" height="2"/>
<rect x="137.6" y="565.8" width="2" height="2"/><rect x="141.1" y="565.8" width="2" height="2"/><rect x="144.7" y="565.8" width="2" height="2"/><rect x="148.2" y="565.8" width="2" height="2"/>
<rect x="137.6" y="568.9" width="2" height="2"/><rect x="141.1" y="568.9" width="2" height="2"/><rect x="144.7" y="568.9" width="2" height="2"/><rect x="148.2" y="568.9" width="2" height="2"/>
</g>
</g>
<text x="167.7" y="561.6" class="ft">Travel dates from 1 March to 30 April 2020 vs. 1 March to 30 April</text>
<text x="167.7" y="574.3" class="ft">2019, according to bookings issued as of 9 February 2020.</text>
<g id="moon" fill="#3b9be0">
<path d="M502.3 555.3A9.7 9.7 0 1 0 516.1 568.3A10.3 10.3 0 0 1 502.3 555.3Z"/>
<path d="M506.1 558.0 506.4 559.3 507.7 559.6 506.6 560.3 506.6 561.6 505.6 560.8 504.4 561.2 504.9 560.0 504.1 559.0 505.4 559.1Z"/>
<path d="M510.6 561.6 511.1 563.7 513.1 564.2 511.3 565.2 511.4 567.3 509.9 565.9 507.9 566.7 508.8 564.8 507.5 563.2 509.5 563.4Z"/>
</g>
<text x="521.8" y="561.6" class="ft">Only considered pax staying 1</text>
<text x="521.8" y="574.1" class="ft">to 21 nights at destinations.</text>
<g id="warn">
<circle cx="702.7" cy="564.1" r="9.8" fill="none" stroke="#e8622a" stroke-width="1.3"/>
<rect x="701.45" y="557.9" width="2.5" height="9.4" rx="1.2" fill="#e8622a"/>
<circle cx="702.7" cy="569.4" r="1.55" fill="#e8622a"/>
</g>
<text x="718" y="567.9" class="ft">Source: ForwardKeys air reservation data.</text>
<text x="524" y="602.3" class="m" font-size="10.13" font-style="italic" fill="#555">© ForwardKeys, 2020. All Rights Reserved.</text>
</g>
</svg>
</body>
</html>
